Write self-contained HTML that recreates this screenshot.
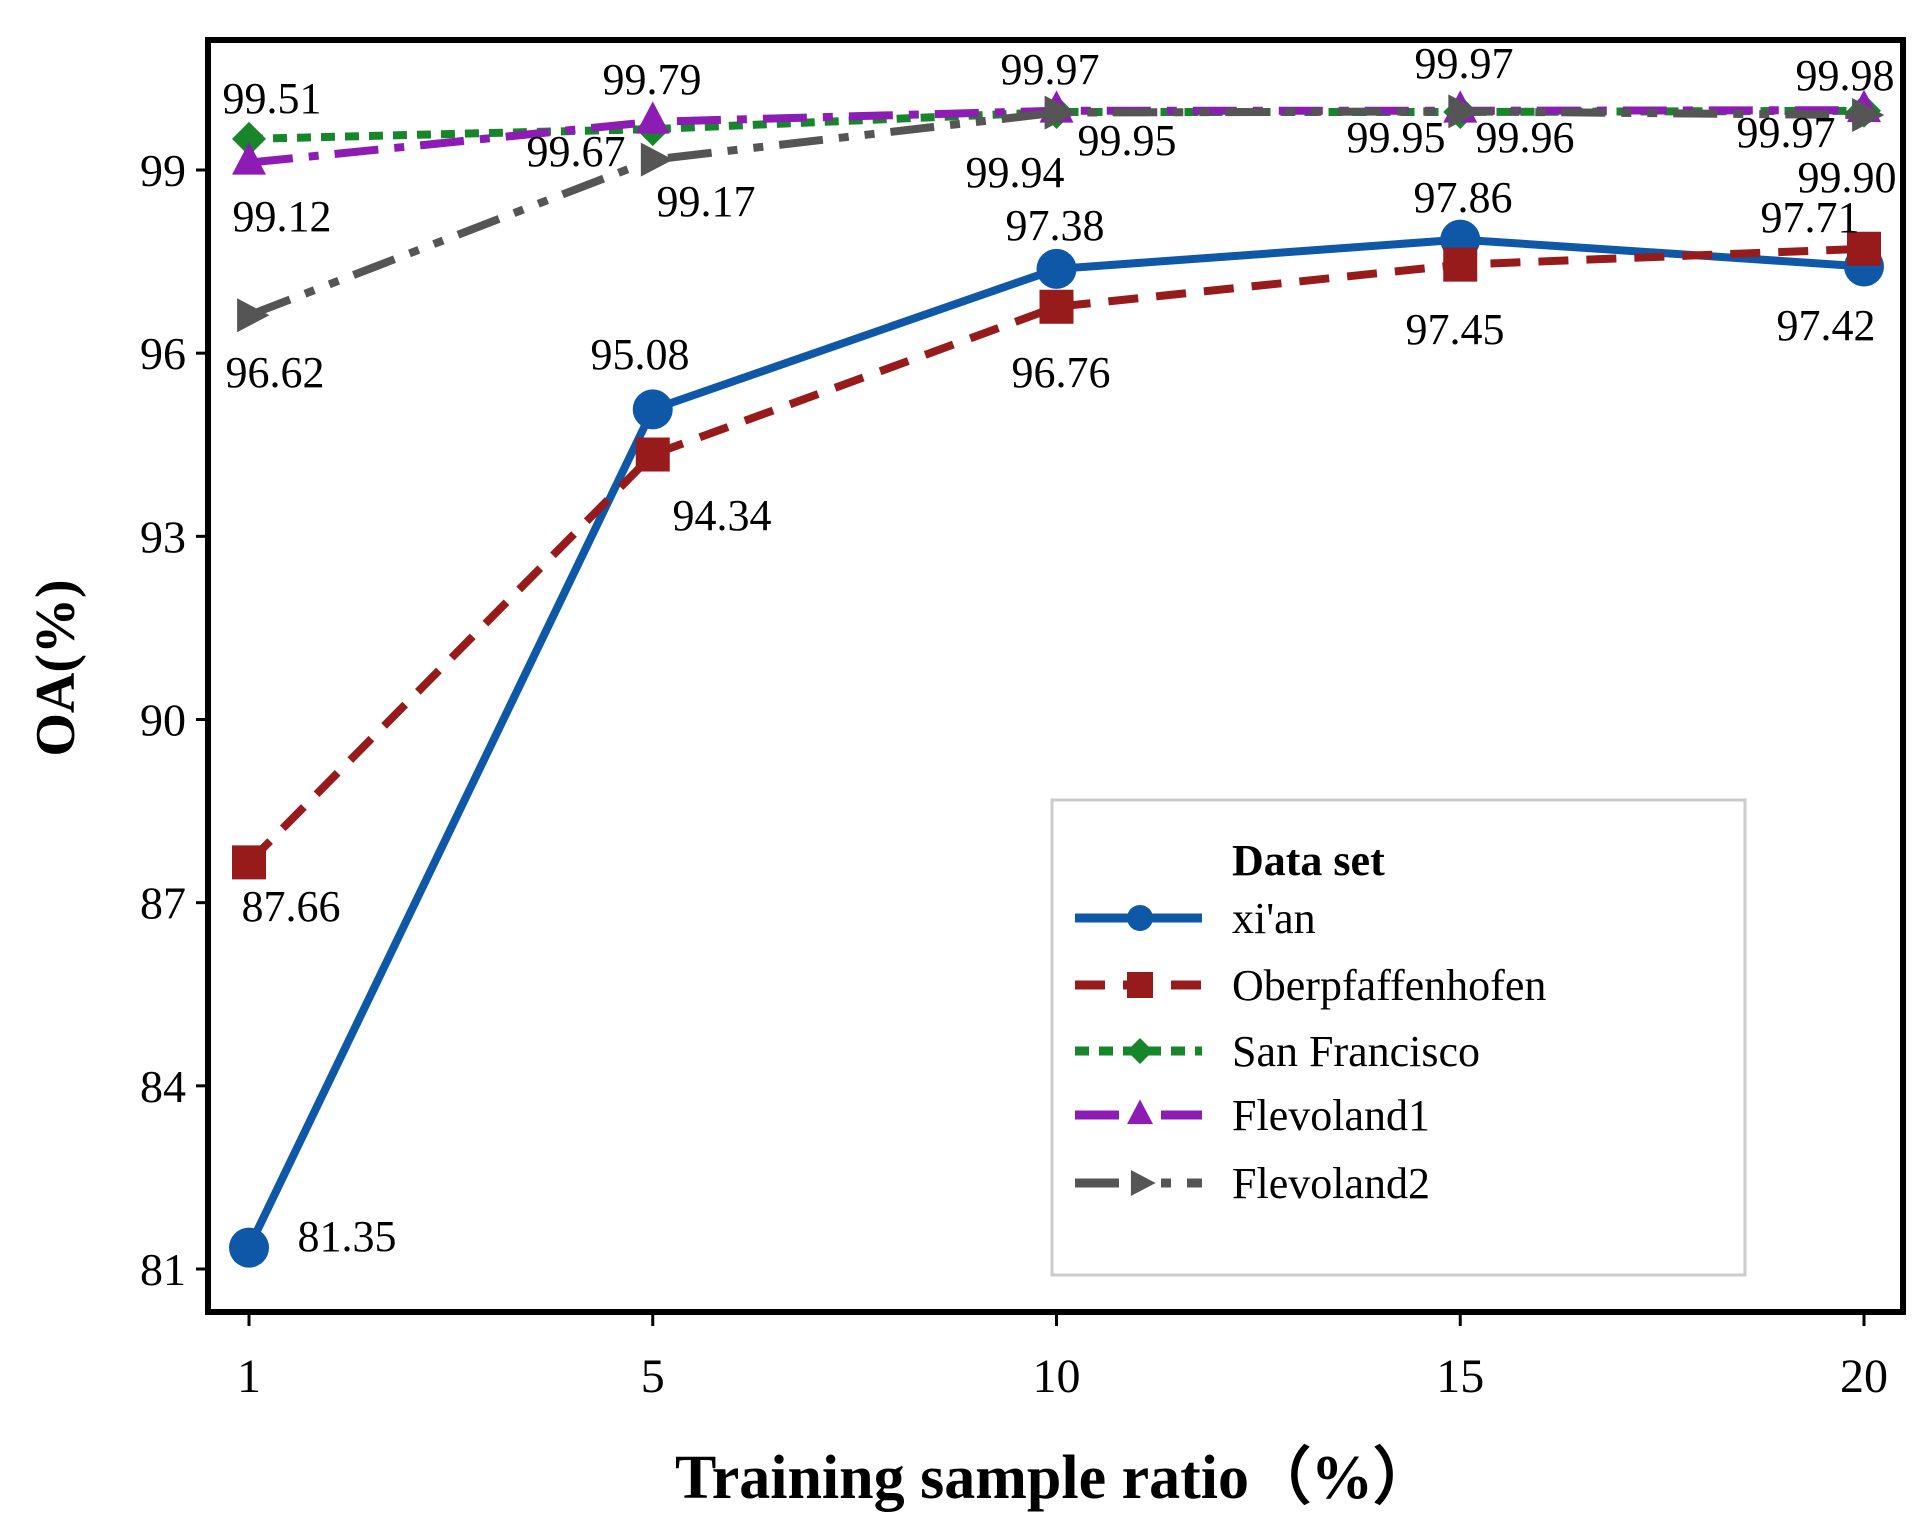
<!DOCTYPE html>
<html><head><meta charset="utf-8"><style>
html,body{margin:0;padding:0;background:#fff;}
svg{display:block;font-family:"Liberation Serif",serif;}
</style></head><body>
<svg id="chart" width="1931" height="1528" viewBox="0 0 1931 1528" xmlns="http://www.w3.org/2000/svg">
<rect x="0" y="0" width="1931" height="1528" fill="#fff"/>
<g id="plot"></g>
<rect x="208" y="40" width="1695" height="1272" fill="none" stroke="#000" stroke-width="6"/>
<text x="1055" y="1498" text-anchor="middle" font-size="62" font-weight="bold">Training sample ratio（%）</text>
<text transform="translate(74,668) rotate(-90)" text-anchor="middle" font-size="56" font-weight="bold">OA(%)</text>
<g id="legend">
<rect x="1052" y="800" width="693" height="475" fill="#fff" stroke="#ccc" stroke-width="3"/>
<text x="1232" y="875" font-size="44" font-weight="bold">Data set</text>
</g>
</svg>
<script>
const categories=[1,5,10,15,20];
const seriesNames=["xi'an","Oberpfaffenhofen","San Francisco","Flevoland1","Flevoland2"];
const xian=[81.35,95.08,97.38,97.86,97.42];
const oberpfaffenhofen=[87.66,94.34,96.76,97.45,97.71];
const sanFrancisco=[99.51,99.67,99.95,99.95,99.97];
const flevoland1=[99.12,99.79,99.97,99.97,99.98];
const flevoland2=[96.62,99.17,99.94,99.96,99.90];
const yTicks=[81,84,87,90,93,96,99];
const labelTexts=["99.51","99.12","96.62","87.66","81.35","99.79","99.67","99.17","95.08","94.34","99.97","99.94","99.95","97.38","96.76","99.97","99.95","99.96","97.86","97.45","99.98","99.97","99.90","97.71","97.42"];

const NS="http://www.w3.org/2000/svg";
const svg=document.getElementById('chart');
const plot=document.getElementById('plot');
const legend=document.getElementById('legend');
function xPos(i){return 249+(1864-249)*i/(categories.length-1);}
function yPos(v){return 170+(99-v)*(1269-170)/18;}
function mk(tag,attrs,parent){const e=document.createElementNS(NS,tag);for(const k in attrs)e.setAttribute(k,attrs[k]);(parent||svg).appendChild(e);return e;}

yTicks.forEach(t=>{
  const l=mk('line',{x1:196,x2:208,y1:yPos(t),y2:yPos(t),stroke:'#000','stroke-width':3},plot);
  
  
  const tx=mk('text',{x:186,y:yPos(t)+16,'text-anchor':'end','font-size':46},plot);
  tx.textContent=t;
  
  
});
categories.forEach((c,i)=>{
  const l=mk('line',{x1:xPos(i),x2:xPos(i),y1:1312,y2:1326,stroke:'#000','stroke-width':3},plot);
  
  
  const tx=mk('text',{x:xPos(i),y:1392,'text-anchor':'middle','font-size':48},plot);
  tx.textContent=c;
  
  
});

const styles=[
 {data:xian,color:'#0f58a8',dash:'',marker:'circle'},
 {data:oberpfaffenhofen,color:'#971b1b',dash:'30,18',marker:'square'},
 {data:sanFrancisco,color:'#17862a',dash:'14,10',marker:'diamond'},
 {data:flevoland1,color:'#8d1cb4',dash:'44,16,10,16',marker:'triangle'},
 {data:flevoland2,color:'#555555',dash:'44,16,10,16,10,16',marker:'arrow'}
];
function marker(type,x,y,color,sz,parent){
  let e;
  if(type==='circle')e=mk('circle',{cx:x,cy:y,r:sz,fill:color},parent);
  else if(type==='square')e=mk('rect',{x:x-sz,y:y-sz,width:2*sz,height:2*sz,fill:color},parent);
  else if(type==='diamond')e=mk('polygon',{points:`${x},${y-sz} ${x+sz},${y} ${x},${y+sz} ${x-sz},${y}`,fill:color},parent);
  else if(type==='triangle')e=mk('polygon',{points:`${x},${y-sz*1.2} ${x+sz},${y+sz*0.7} ${x-sz},${y+sz*0.7}`,fill:color},parent);
  else e=mk('polygon',{points:`${x+sz*1.2},${y} ${x-sz*0.7},${y-sz} ${x-sz*0.7},${y+sz}`,fill:color},parent);
  return e;
}
styles.forEach((s,si)=>{
  const pts=s.data.map((v,i)=>xPos(i)+','+yPos(v)).join(' ');
  const pl=mk('polyline',{points:pts,fill:'none',stroke:s.color,'stroke-width':8,'stroke-dasharray':s.dash},plot);
  
  
  s.data.forEach((v,i)=>{
    const m=marker(s.marker,xPos(i),yPos(v),s.color,s.marker==='circle'?20:17,plot);
    
    
  });
  const ly=[918,985,1051,1115,1183][si];
  const ll=mk('line',{x1:1075,x2:1202,y1:ly,y2:ly,stroke:s.color,'stroke-width':9,'stroke-dasharray':s.dash},legend);
  
  
  const lm=marker(s.marker,1140,ly,s.color,13,legend);
  
  
  const lt=mk('text',{x:1232,y:ly+15,'font-size':44},legend);
  lt.textContent=seriesNames[si];
  
  
});
const labelPos=[[272,113],[282,231],[275,387],[291,921],[347,1251],[652,94],[576,166],[706,216],[640,369],[722,530],[1050,84],[1015,187],[1127,155],[1055,240],[1061,387],[1464,78],[1396,152],[1525,152],[1463,212],[1455,344],[1845,90],[1786,147],[1847,192],[1810,232],[1826,340]];
labelTexts.forEach((t,k)=>{
  const tx=mk('text',{x:labelPos[k][0],y:labelPos[k][1],'text-anchor':'middle','font-size':44},plot);
  tx.textContent=t;
  
  
});
</script>
</body></html>
